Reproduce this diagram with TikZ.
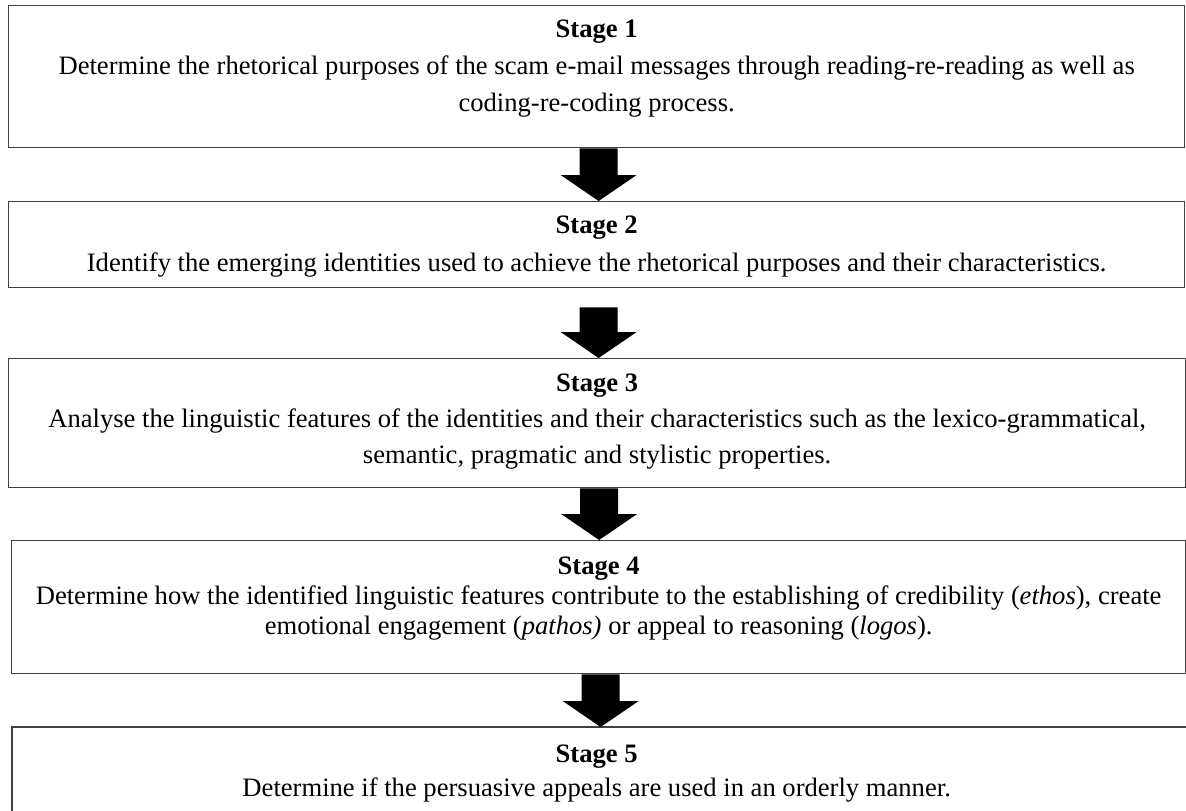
\documentclass[tikz,border=0pt]{standalone}
\usepackage{fontspec}
\setmainfont{Liberation Serif}
\usetikzlibrary{calc}

% block arrow from the bottom of #1 to the top of #2, starting #3 below #1
\newcommand\stagearrow[3]{%
  \fill[flowarrow]
    ($(#1.south)+(-17,-#3)$) -- ($(#1.south)+(21,-#3)$)
    -- ($(#1.south |- #2.north)+(21,26)$) -- ($(#1.south |- #2.north)+(40,26)$)
    -- ($(#1.south |- #2.north)+(2,0)$)
    -- ($(#1.south |- #2.north)+(-36,26)$) -- ($(#1.south |- #2.north)+(-17,26)$)
    -- cycle;}

\begin{document}
\begin{tikzpicture}[x=1pt,y=1pt,
  stagebox/.style={draw=black!75, line width=1.3pt, inner sep=0pt, anchor=north west},
  stagetext/.style={align=center, inner sep=0pt, anchor=north, text=black},
  bodyfont/.style={font=\fontsize{26.6}{#1}\selectfont},
  flowarrow/.style={fill=black}]
\useasboundingbox (0,0) rectangle (1186,-811);
\fill[white] (0,0) rectangle (1186,-811);

% stage boxes
\node[stagebox, minimum width=1176pt, minimum height=142pt] (s1) at (8,-5) {};
\node[stagebox, minimum width=1176pt, minimum height=86pt] (s2) at (8,-201) {};
\node[stagebox, minimum width=1177pt, minimum height=129pt] (s3) at (8,-358) {};
\node[stagebox, minimum width=1174pt, minimum height=133pt] (s4) at (11,-540) {};
\node[stagebox, draw=none, minimum width=1168pt, minimum height=90pt] (s5) at (12,-727) {};
\draw[draw=black!75, line width=1.3pt] (s5.south west) -- (s5.north west) -- ($(s5.north east)+(10,0)$);

% stage texts
\node[stagetext, bodyfont=37] (t1) at ($(s1.north)+(0,-15)$)
  {\textbf{Stage 1}\\Determine the rhetorical purposes of the scam e-mail messages through reading-re-reading as well as\\coding-re-coding process.};
\node[stagetext, bodyfont=38] (t2) at ($(s2.north)+(0,-14.6)$)
  {\textbf{Stage 2}\\Identify the emerging identities used to achieve the rhetorical purposes and their characteristics.};
\node[stagetext, bodyfont=36] (t3) at ($(s3.north)+(0,-15.6)$)
  {\textbf{Stage 3}\\Analyse the linguistic features of the identities and their characteristics such as the lexico-grammatical,\\semantic, pragmatic and stylistic properties.};
\node[stagetext, bodyfont=30] (t4) at ($(s4.north)+(0,-16.6)$)
  {\textbf{Stage 4}\\Determine how the identified linguistic features contribute to the establishing of credibility (\textit{ethos}), create\\emotional engagement (\textit{pathos)} or appeal to reasoning (\textit{logos}).};
\node[stagetext, bodyfont=34] (t5) at ($(s4.south |- s5.north)+(-2,-17.6)$)
  {\textbf{Stage 5}\\Determine if the persuasive appeals are used in an orderly manner.};

% arrows between stages
\stagearrow{s1}{s2}{0}
\stagearrow{s2}{s3}{19}
\stagearrow{s3}{s4}{0}
\stagearrow{s4}{s5}{0}
\end{tikzpicture}
\end{document}
